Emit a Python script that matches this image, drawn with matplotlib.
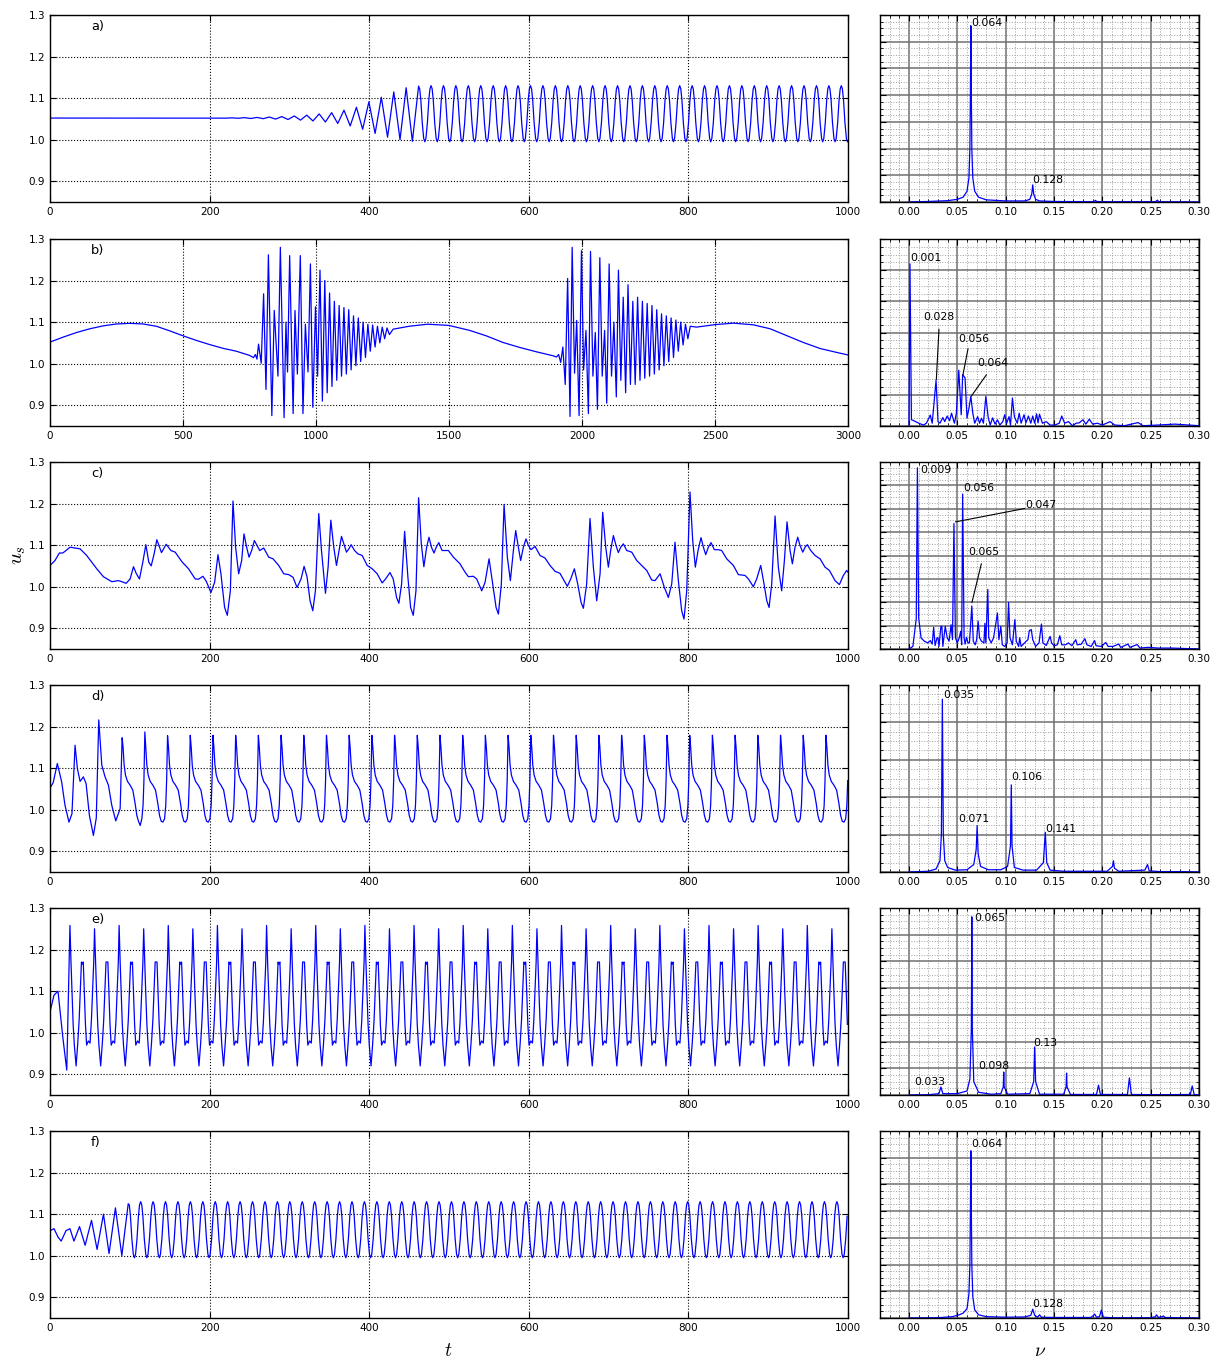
import numpy as np
import matplotlib
matplotlib.use("Agg")
import matplotlib.pyplot as plt
from matplotlib.ticker import MultipleLocator, NullFormatter, FormatStrFormatter

plt.rcParams.update({
    "font.family": ["DejaVu Sans"],
    "font.size": 7.5,
    "mathtext.fontset": "cm",
    "xtick.direction": "in", "ytick.direction": "in",
    "xtick.top": True, "ytick.right": True,
    "xtick.major.size": 4, "ytick.major.size": 4,
    "xtick.minor.size": 2, "ytick.minor.size": 2,
    "axes.linewidth": 1.0,
})

# ---------------- time series data ----------------
# a) explicit transient extrema
a_t = [0, 200, 212.6, 220.4, 228.2, 236.0, 243.8, 251.6, 259.4, 267.2, 274.9, 282.7, 290.5, 298.3,
       306.1, 313.9, 321.7, 329.5, 337.3, 345.1, 352.9, 360.6, 368.4, 376.2, 384.0, 391.8, 399.6,
       407.4, 415.2, 423.0, 430.8, 438.6, 446.3, 454.1]
a_u = [1.052, 1.052, 1.0522, 1.0518, 1.0525, 1.0515, 1.053, 1.051, 1.0535, 1.0505, 1.0545, 1.0495,
       1.0555, 1.0485, 1.057, 1.047, 1.059, 1.045, 1.062, 1.0425, 1.065, 1.039, 1.071, 1.033, 1.078,
       1.025, 1.091, 1.015, 1.102, 1.006, 1.115, 1.0, 1.125, 0.996]
# a) steady oscillation: peak times, peak / trough values, one cycle shape
a_peak_t = [461.9, 477.5, 493.1, 508.6, 524.2, 539.8, 555.4, 571.0, 586.5, 602.1, 617.7, 633.3,
            648.9, 664.4, 680.0, 695.6, 711.2, 726.8, 742.3, 757.9, 773.5, 789.1, 804.7, 820.2,
            835.8, 851.4, 867.0, 882.6, 898.1, 913.7, 929.3, 944.9, 960.5, 976.0, 991.6]
a_peak_u = [1.129] + [1.13] * 34
a_trough_u = [0.995] * 35
a_cyc_dt = [0, 1.4, 2.8, 4.6, 6.4, 7.8, 9.2, 11.0, 12.8, 14.2]
a_cyc_u = ["P", 1.122, 1.095, 1.04, 1.003, "T", 1.003, 1.04, 1.095, 1.122]

# b) slow wave + two bursts (t, u)
b_t = [0, 50, 100, 150, 200, 250, 300, 350, 400, 450, 500, 550, 600, 650, 700, 750, 765,
       772, 778, 784, 794, 803, 812, 821, 834, 843, 857, 866, 880, 887, 893, 901, 914, 921, 930,
       941, 951, 960, 970, 979, 988, 998, 1006, 1015, 1024, 1033, 1042, 1051, 1060, 1069, 1078,
       1087, 1096, 1105, 1114, 1123, 1132, 1141, 1150, 1159, 1168, 1177, 1186, 1195, 1204, 1213,
       1222, 1231, 1240, 1249, 1258, 1267, 1276, 1290, 1350, 1420, 1500, 1578, 1640, 1703, 1766,
       1829, 1891, 1904]
b_u = [1.052, 1.064, 1.075, 1.084, 1.091, 1.0955, 1.097, 1.0955, 1.09, 1.079, 1.067, 1.056,
       1.046, 1.037, 1.03, 1.02, 1.0145,
       1.022, 1.011, 1.047, 1.001, 1.168, 0.938, 1.262, 0.875, 1.128, 0.97, 1.28, 0.87, 1.10,
       0.98, 1.26, 0.88, 1.128, 0.975, 1.26, 0.88, 1.095, 0.98, 1.24, 0.895, 1.137, 0.97, 1.225,
       0.91, 1.2, 0.93, 1.17, 0.945, 1.15, 0.96, 1.14, 0.97, 1.135, 0.975, 1.13, 0.985, 1.115,
       0.995, 1.11, 1.005, 1.1, 1.015, 1.095, 1.03, 1.093, 1.04, 1.09, 1.05, 1.088, 1.06, 1.086,
       1.07, 1.083, 1.09, 1.095, 1.092, 1.08, 1.067, 1.051, 1.039, 1.0285, 1.019, 1.016]
b2_t = [1904, 1912, 1920, 1928, 1937, 1946, 1955, 1963, 1972, 1980, 1989, 1998, 2006, 2015,
        2024, 2032, 2041, 2050, 2058, 2067, 2076, 2085, 2093, 2102, 2111, 2120, 2129, 2137, 2146,
        2155, 2164, 2173, 2182, 2191, 2200, 2209, 2218, 2227, 2236, 2245, 2254, 2263, 2272, 2281,
        2290, 2299, 2308, 2317, 2326, 2335, 2344, 2353, 2362, 2371, 2380, 2389, 2398, 2407, 2431,
        2501, 2569, 2644, 2707, 2770, 2832, 2895, 2958, 3000]
b2_u = [1.016, 1.022, 1.003, 1.04, 0.95, 1.205, 0.873, 1.28, 0.977, 1.104, 0.875, 1.272, 0.985,
        1.08, 0.88, 1.27, 0.97, 1.075, 0.89, 1.255, 0.97, 1.08, 0.905, 1.24, 0.97, 1.1, 0.92,
        1.225, 0.96, 1.16, 0.93, 1.19, 0.95, 1.15, 0.95, 1.16, 0.96, 1.15, 0.965, 1.145, 0.97,
        1.14, 0.975, 1.13, 0.985, 1.12, 0.995, 1.115, 1.005, 1.11, 1.015, 1.105, 1.03, 1.1, 1.045,
        1.095, 1.06, 1.09, 1.088, 1.094, 1.0975, 1.0935, 1.084, 1.0675, 1.051, 1.0365, 1.027, 1.021]

# c) irregular signal (t, u)
c_t = [0, 6.3, 11.7, 15.9, 18.8, 25.1, 34.3, 37.7, 46, 58.6, 66.9, 77.4, 85.8, 90, 95.4, 100.4,
       104.6, 108, 112.1, 116.3, 120.1, 123.8, 126.8, 130.5, 133.9, 137.2, 139.7, 145.6, 151.5,
       156.9, 165.3, 173.6, 182, 186.2, 191.6, 195.8, 201.7, 206.3, 210.5, 214.2, 218.8, 222.2,
       226, 229.3, 232.6, 236.4, 240.2, 243.1, 246.4, 249.4, 252.7, 256.1, 259.4, 262.8, 267.8,
       274.1, 279.5, 286.6, 292.9, 299.2, 304.6, 309.6, 314.6, 318.4, 322.2, 325.9, 329.3, 332.6,
       336.8, 340.2, 345.2, 348.5, 351.9, 355.6, 359, 362.3, 365.3, 368.2, 371.5, 374.5, 377.4,
       381.6, 385.8, 391.2, 397.5, 403.8, 410, 416.3, 420.5, 426, 430.1, 434.3, 437.2, 440.6,
       444.4, 448.5, 451.9, 455.2, 458.6, 461.9, 465.3, 468.5, 472, 474.9, 478, 481.2, 484,
       487.2, 491.3, 499.2, 505.5, 513.8, 520.1, 524.3, 530.5, 534.7, 541, 545.2, 550.2, 554.8,
       559, 561.9, 565.6, 569, 573.1, 576.9, 580.7, 583.6, 586.9, 589.8, 593.2, 596.5, 599.5,
       602.8, 607.8, 614.1, 620.3, 626.6, 632.9, 639.1, 644.2, 648.3, 652.5, 657.1, 661.3, 665.5,
       668.4, 672.5, 676.7, 680.9, 685.1, 689.3, 692.6, 696.4, 699.7, 702.6, 706, 709.3, 712.2,
       715.2, 718.5, 722.7, 729, 735.2, 741.5, 747.8, 754, 758.2, 764.5, 769.9, 774.9, 779.1,
       783.2, 787.4, 791.6, 794.5, 797.9, 802, 805.4, 808.7, 812.1, 815.8, 818.8, 821.7, 825,
       828.4, 832.5, 837.5, 841.7, 848, 856.4, 862.6, 871, 875.2, 881.4, 885.6, 890.6, 894.8,
       898.2, 901.1, 904.4, 908.6, 912.7, 916.9, 920.3, 923.6, 927.4, 930.3, 933.6, 937, 939.9,
       943.3, 946.2, 949.1, 953.3, 958.7, 965, 971.2, 976.7, 983.8, 989.2, 994.2, 998.4, 1000]
c_u = [1.051, 1.063, 1.081, 1.081, 1.085, 1.095, 1.092, 1.091, 1.075, 1.043, 1.024, 1.012,
       1.0145, 1.012, 1.008, 1.0185, 1.048, 1.032, 1.0185, 1.059, 1.101, 1.059, 1.05, 1.079,
       1.113, 1.095, 1.082, 1.102, 1.087, 1.083, 1.06, 1.043, 1.0185, 1.018, 1.025, 1.013,
       0.986, 1.0105, 1.077, 1.031, 0.95, 0.931, 0.99, 1.206, 1.095, 1.031, 1.063, 1.127, 1.095,
       1.071, 1.087, 1.111, 1.099, 1.087, 1.093, 1.071, 1.067, 1.051, 1.031, 1.029, 1.0225,
       0.998, 1.0185, 1.049, 1.0225, 0.966, 0.942, 0.99, 1.176, 1.087, 0.984, 1.047, 1.16, 1.095,
       1.051, 1.087, 1.121, 1.103, 1.083, 1.091, 1.101, 1.087, 1.079, 1.075, 1.051, 1.043, 1.031,
       1.009, 1.0185, 1.034, 1.0185, 0.974, 0.96, 1.0065, 1.133, 1.0225, 0.95, 0.931, 0.99,
       1.214, 1.103, 1.048, 1.095, 1.119, 1.095, 1.081, 1.095, 1.106, 1.087, 1.087, 1.071, 1.055,
       1.035, 1.024, 1.025, 1.0185, 0.99, 1.0105, 1.067, 1.0065, 0.95, 0.934, 1.0065, 1.198,
       1.071, 1.0145, 1.087, 1.135, 1.095, 1.063, 1.095, 1.115, 1.099, 1.089, 1.097, 1.075,
       1.069, 1.051, 1.037, 1.032, 1.0145, 1.001, 1.0185, 1.043, 1.0065, 0.962, 0.948, 1.0065,
       1.164, 1.047, 0.966, 1.031, 1.179, 1.095, 1.047, 1.087, 1.123, 1.099, 1.082, 1.095,
       1.103, 1.087, 1.083, 1.063, 1.051, 1.039, 1.016, 1.0145, 1.031, 0.998, 0.974, 1.0065,
       1.107, 1.0145, 0.942, 0.922, 0.99, 1.228, 1.111, 1.047, 1.087, 1.118, 1.095, 1.077,
       1.095, 1.106, 1.089, 1.089, 1.087, 1.067, 1.051, 1.029, 1.027, 1.0185, 1.0, 1.0185,
       1.051, 1.0065, 0.966, 0.95, 1.0065, 1.17, 1.047, 0.99, 1.063, 1.156, 1.087, 1.055, 1.095,
       1.119, 1.099, 1.083, 1.095, 1.101, 1.087, 1.075, 1.067, 1.047, 1.039, 1.0145, 1.005,
       1.027, 1.039, 1.035]

# d) transient + steady cycles
d_t = [0, 4, 9.2, 14.6, 18.8, 23.8, 27.5, 31.4, 34.3, 37.7, 41.8, 45.2, 49.4, 54.4, 58, 61.1,
       64.9, 69, 73.2, 77.4, 82.4, 87.9]
d_u = [1.052, 1.065, 1.111, 1.067, 1.0105, 0.97, 0.99, 1.155, 1.099, 1.068, 1.079, 1.063,
       0.986, 0.938, 0.98, 1.216, 1.107, 1.079, 1.059, 1.0105, 0.973, 1.0025]
d_peak_t = [90.4, 118.85, 147.3, 175.75, 204.2, 232.65, 261.1, 289.55, 318.0, 346.45, 374.9,
            403.35, 431.8, 460.25, 488.7, 517.15, 545.6, 574.05, 602.5, 630.95, 659.4, 687.85,
            716.3, 744.75, 773.2, 801.65, 830.1, 858.55, 887.0, 915.45, 943.9, 972.35]
d_peak_u = [1.173, 1.187, 1.178] + [1.179] * 29
d_trough_u = [0.962] + [0.970] * 31
d_cyc_dt = [0, 1.2, 2.5, 4.2, 6.7, 10.0, 13.4, 16.3, 18.4, 20.5, 22.6, 24.7, 26.2, 27.3, 28.0]
d_cyc_u = ["P", 1.15, 1.107, 1.083, 1.068, 1.059, 1.047, 1.0145, 0.986, 0.972, "T", 0.978,
           1.01, 1.07, 1.14]

# e) transient + steady cycles (pairs of peaks)
e_t = [0, 5, 10, 16, 21]
e_u = [1.05, 1.09, 1.10, 0.99, 0.91]
e_peak_t = [25.0, 40.4, 55.8, 71.2, 86.6, 102.0, 117.4, 132.8, 148.2, 163.6, 179.0, 194.4,
            209.8, 225.2, 240.6, 256.0, 271.4, 286.8, 302.2, 317.6, 333.0, 348.4, 363.8, 379.2,
            394.6, 410.0, 425.4, 440.8, 456.2, 471.6, 487.0, 502.4, 517.8, 533.2, 548.6, 564.0,
            579.4, 594.8, 610.2, 625.6, 641.0, 656.4, 671.8, 687.2, 702.6, 718.0, 733.4, 748.8,
            764.2, 779.6, 795.0, 810.4, 825.8, 841.2, 856.6, 872.0, 887.4, 902.8, 918.2, 933.6,
            949.0, 964.4, 979.8, 995.2]
e_peak_u = [1.258, 1.165, 1.25, 1.17] * 16
e_trough_u = [0.92, 0.98, 0.92, 0.98] * 16
e_cyc_dt = [0, 1.3, 2.5, 4.0, 5.5, 7.7, 9.8, 11.5, 13.0, 14.4]
e_cyc_u = ["P", 1.17, 1.10, 1.02, 0.97, "T", 0.975, 1.03, 1.10, 1.17]

# f) transient + steady cycles
f_t = [0, 5, 10, 14, 20, 25, 30, 37, 44, 52, 59, 67, 74, 82, 90]
f_u = [1.06, 1.065, 1.045, 1.035, 1.06, 1.065, 1.035, 1.07, 1.025, 1.085, 1.015, 1.1, 1.005,
       1.115, 1.0]
f_peak_t = [98.0, 113.6, 129.2, 144.7, 160.3, 175.9, 191.5, 207.1, 222.6, 238.2, 253.8, 269.4,
            285.0, 300.5, 316.1, 331.7, 347.3, 362.9, 378.4, 394.0, 409.6, 425.2, 440.8, 456.3,
            471.9, 487.5, 503.1, 518.7, 534.2, 549.8, 565.4, 581.0, 596.6, 612.1, 627.7, 643.3,
            658.9, 674.5, 690.0, 705.6, 721.2, 736.8, 752.4, 767.9, 783.5, 799.1, 814.7, 830.3,
            845.8, 861.4, 877.0, 892.6, 908.2, 923.7, 939.3, 954.9, 970.5, 986.1]
f_peak_u = [1.125] + [1.13] * 57
f_trough_u = [0.995] * 58
f_cyc_dt = [0, 1.4, 2.8, 4.6, 6.4, 7.8, 9.2, 11.0, 12.8, 14.2]
f_cyc_u = ["P", 1.122, 1.095, 1.04, 1.003, "T", 1.003, 1.04, 1.095, 1.122]

# ---------------- spectra data ----------------
sa_f = [0.0, 0.02, 0.04, 0.05, 0.056, 0.060, 0.062, 0.063, 0.0635, 0.064, 0.0645, 0.065, 0.066,
        0.068, 0.072, 0.08, 0.10, 0.12, 0.125, 0.127, 0.128, 0.129, 0.131, 0.135, 0.15, 0.19,
        0.192, 0.193, 0.194, 0.20, 0.255, 0.256, 0.257, 0.258, 0.26, 0.30]
sa_a = [0, 0.02, 0.05, 0.1, 0.18, 0.4, 0.9, 2.0, 4.0, 6.6, 4.0, 2.0, 0.9, 0.4, 0.18, 0.08, 0.04,
        0.04, 0.1, 0.3, 0.64, 0.3, 0.1, 0.04, 0.02, 0.01, 0.03, 0.06, 0.02, 0.01, 0.01, 0.04,
        0.07, 0.02, 0.01, 0.0]

sb_f = [0.0, 0.001, 0.0025, 0.005, 0.01, 0.015, 0.018, 0.022, 0.024, 0.028, 0.030, 0.032,
        0.035, 0.037, 0.0395, 0.042, 0.044, 0.047, 0.049, 0.0515, 0.054, 0.0555, 0.058, 0.060,
        0.062, 0.064, 0.066, 0.068, 0.071, 0.073, 0.075, 0.077, 0.0795, 0.082, 0.084, 0.0865,
        0.089, 0.0915, 0.094, 0.097, 0.099, 0.101, 0.1035, 0.105, 0.107, 0.109, 0.112, 0.114,
        0.116, 0.119, 0.121, 0.1235, 0.126, 0.128, 0.130, 0.132, 0.1335, 0.135, 0.138, 0.142,
        0.146, 0.151, 0.1555, 0.158, 0.161, 0.165, 0.169, 0.173, 0.176, 0.18, 0.183, 0.1865,
        0.19, 0.195, 0.20, 0.208, 0.213, 0.223, 0.237, 0.242, 0.257, 0.275, 0.30]
sb_a = [0, 5.2, 0.2, 0.17, 0.09, 0.03, 0.09, 0.35, 0.09, 1.47, 0.14, 0.09, 0.27, 0.14, 0.32,
        0.17, 0.41, 0.09, 0.41, 1.79, 0.36, 1.65, 1.54, 0.25, 0.57, 0.95, 0.41, 0.09, 0.3, 0.09,
        0.25, 0.09, 0.95, 0.26, 0.03, 0.26, 0.06, 0.2, 0.03, 0.14, 0.36, 0.09, 0.3, 0.03, 0.9,
        0.3, 0.09, 0.41, 0.09, 0.36, 0.1, 0.32, 0.09, 0.32, 0.09, 0.39, 0.1, 0.38, 0.09, 0.14,
        0.03, 0.03, 0.09, 0.32, 0.09, 0.14, 0.01, 0.09, 0.1, 0.2, 0.06, 0.22, 0.06, 0.09, 0.03,
        0.14, 0.03, 0.01, 0.11, 0.01, 0.03, 0.06, 0.01]

sc_f = [0.0, 0.004, 0.0075, 0.0087, 0.010, 0.0125, 0.016, 0.0195, 0.022, 0.024, 0.0255, 0.027,
        0.029, 0.030, 0.031, 0.033, 0.034, 0.035, 0.0375, 0.0395, 0.0415, 0.0435, 0.045, 0.0465,
        0.048, 0.050, 0.052, 0.0535, 0.0545, 0.0555, 0.057, 0.058, 0.0595, 0.061, 0.0625,
        0.065, 0.0665, 0.0685, 0.070, 0.0715, 0.073, 0.075, 0.0775, 0.0785, 0.0795, 0.0815,
        0.0825, 0.085, 0.0875, 0.0915, 0.093, 0.095, 0.0965, 0.099, 0.1015, 0.103, 0.1045,
        0.107, 0.1095, 0.111, 0.1135, 0.1145, 0.116, 0.1195, 0.123, 0.1245, 0.1265, 0.128,
        0.131, 0.1345, 0.137, 0.1385, 0.142, 0.146, 0.1475, 0.150, 0.1535, 0.156, 0.158, 0.162,
        0.165, 0.1685, 0.1725, 0.174, 0.178, 0.182, 0.184, 0.1885, 0.192, 0.1935, 0.199, 0.2035,
        0.206, 0.211, 0.217, 0.219, 0.2265, 0.2285, 0.236, 0.239, 0.247, 0.258, 0.272, 0.30]
sc_a = [0, 0.11, 1.3, 7.75, 1.33, 0.47, 0.33, 0.26, 0.36, 0.21, 0.93, 0.15, 0.48, 0.48, 0.11,
        0.97, 0.97, 0.11, 0.97, 0.48, 0.34, 1.04, 0.4, 5.37, 0.48, 0.26, 0.48, 0.76, 0.18, 6.63,
        0.48, 0.21, 0.5, 0.26, 0.26, 1.84, 0.33, 0.18, 0.4, 1.19, 0.48, 0.33, 0.26, 1.1, 0.26,
        2.55, 0.48, 0.26, 0.48, 1.54, 0.4, 0.97, 0.18, 0.11, 0.26, 1.99, 0.48, 0.18, 1.26, 0.33,
        0.11, 0.48, 0.11, 0.26, 0.4, 0.79, 0.83, 0.4, 0.11, 0.26, 1.07, 0.26, 0.15, 0.54, 0.26,
        0.14, 0.18, 0.57, 0.18, 0.18, 0.26, 0.14, 0.4, 0.18, 0.2, 0.44, 0.18, 0.11, 0.36, 0.14,
        0.11, 0.28, 0.11, 0.11, 0.21, 0.07, 0.21, 0.07, 0.19, 0.04, 0.07, 0.04, 0.04, 0.0]

sd_f = [0.0, 0.02, 0.028, 0.032, 0.0335, 0.0345, 0.0355, 0.037, 0.040, 0.048, 0.060, 0.067,
        0.0695, 0.0705, 0.0715, 0.074, 0.082, 0.095, 0.102, 0.105, 0.1058, 0.1066, 0.109, 0.118,
        0.132, 0.139, 0.141, 0.1425, 0.146, 0.16, 0.205, 0.2105, 0.2115, 0.2125, 0.217, 0.244,
        0.2467, 0.2485, 0.26, 0.28, 0.30]
sd_a = [0, 0.02, 0.08, 0.3, 1.0, 4.62, 1.0, 0.3, 0.12, 0.05, 0.06, 0.2, 0.6, 1.24, 0.5, 0.15,
        0.06, 0.06, 0.15, 0.7, 2.33, 0.7, 0.12, 0.05, 0.05, 0.25, 1.06, 0.25, 0.05, 0.02, 0.02,
        0.15, 0.3, 0.1, 0.02, 0.05, 0.2, 0.03, 0.01, 0.01, 0.0]

se_f = [0.0, 0.02, 0.031, 0.033, 0.035, 0.05, 0.06, 0.063, 0.0645, 0.065, 0.0655, 0.067,
        0.072, 0.085, 0.095, 0.0975, 0.098, 0.0985, 0.102, 0.125, 0.129, 0.130, 0.131, 0.135,
        0.16, 0.1625, 0.163, 0.1635, 0.167, 0.194, 0.196, 0.198, 0.226, 0.228, 0.230, 0.26,
        0.291, 0.293, 0.295, 0.30]
se_a = [0, 0.01, 0.05, 0.3, 0.05, 0.05, 0.15, 0.6, 2.5, 6.67, 2.5, 0.5, 0.1, 0.03, 0.05, 0.3,
        0.86, 0.3, 0.03, 0.05, 0.5, 1.8, 0.5, 0.03, 0.03, 0.3, 0.82, 0.3, 0.02, 0.02, 0.37, 0.02,
        0.02, 0.64, 0.02, 0.01, 0.02, 0.34, 0.02, 0.0]

sf_f = [0.0, 0.03, 0.045, 0.052, 0.056, 0.060, 0.062, 0.063, 0.0635, 0.064, 0.0645, 0.065,
        0.066, 0.068, 0.072, 0.08, 0.10, 0.12, 0.126, 0.128, 0.130, 0.133, 0.135, 0.137, 0.15,
        0.188, 0.191, 0.192, 0.194, 0.197, 0.199, 0.201, 0.21, 0.25, 0.255, 0.256, 0.258, 0.262,
        0.263, 0.265, 0.30]
sf_a = [0, 0.01, 0.05, 0.12, 0.18, 0.35, 0.9, 2.0, 4.0, 6.26, 4.0, 2.0, 0.8, 0.3, 0.12, 0.05,
        0.03, 0.04, 0.1, 0.33, 0.1, 0.03, 0.12, 0.03, 0.02, 0.02, 0.1, 0.15, 0.03, 0.05, 0.3, 0.03,
        0.01, 0.01, 0.05, 0.12, 0.02, 0.05, 0.08, 0.02, 0.0]

# annotations per spectrum: (text, text_xy, line_end_or_None)
ann_a = [("0.064", (0.0645, 6.6), None), ("0.128", (0.128, 0.71), None)]
ann_b = [("0.001", (0.0014, 5.3), None),
         ("0.028", (0.0152, 3.4), ((0.031, 3.1), (0.0283, 1.5))),
         ("0.056", (0.0506, 2.7), ((0.061, 2.47), (0.0558, 1.64))),
         ("0.064", (0.0703, 1.91), ((0.080, 1.64), (0.0645, 0.96)))]
ann_c = [("0.009", (0.0121, 7.51), None), ("0.056", (0.0565, 6.77), None),
         ("0.047", (0.1203, 6.05), ((0.1196, 6.01), (0.0483, 5.44))),
         ("0.065", (0.0617, 4.04), ((0.0748, 3.64), (0.0651, 1.99)))]
ann_d = [("0.035", (0.0351, 4.64), None), ("0.071", (0.0514, 1.34), None),
         ("0.106", (0.1058, 2.45), None), ("0.141", (0.141, 1.08), None)]
ann_e = [("0.065", (0.068, 6.5), None), ("0.098", (0.072, 0.98), None),
         ("0.13", (0.129, 1.84), None), ("0.033", (0.005, 0.38), None)]
ann_f = [("0.064", (0.0645, 6.39), None), ("0.128", (0.128, 0.4), None)]


def build(t0, u0, peak_t, peak_u, trough_u, cyc_dt, cyc_u, tmax=1000.0):
    t, u = list(t0), list(u0)
    for pt, pu, tu in zip(peak_t, peak_u, trough_u):
        for dt, v in zip(cyc_dt, cyc_u):
            tt = pt + dt
            if tt > tmax:
                break
            t.append(tt)
            u.append(pu if v == "P" else (tu if v == "T" else v))
    return t, u


series = [
    build(a_t, a_u, a_peak_t, a_peak_u, a_trough_u, a_cyc_dt, a_cyc_u),
    (b_t + b2_t[1:], b_u + b2_u[1:]),
    (c_t, c_u),
    build(d_t, d_u, d_peak_t, d_peak_u, d_trough_u, d_cyc_dt, d_cyc_u),
    build(e_t, e_u, e_peak_t, e_peak_u, e_trough_u, e_cyc_dt, e_cyc_u),
    build(f_t, f_u, f_peak_t, f_peak_u, f_trough_u, f_cyc_dt, f_cyc_u),
]
spectra = [(sa_f, sa_a, 7, ann_a), (sb_f, sb_a, 6, ann_b), (sc_f, sc_a, 8, ann_c),
           (sd_f, sd_a, 5, ann_d), (se_f, se_a, 7, ann_e), (sf_f, sf_a, 7, ann_f)]
labels = ["a)", "b)", "c)", "d)", "e)", "f)"]
tmax_list = [1000, 3000, 1000, 1000, 1000, 1000]
tstep_list = [200, 500, 200, 200, 200, 200]

W, H = 1222, 1362
fig = plt.figure(figsize=(W / 100, H / 100), dpi=100)
tops = [15, 239, 462, 685, 908, 1131]
hgt = 187
for i in range(6):
    bot = 1 - (tops[i] + hgt) / H
    axL = fig.add_axes([50 / W, bot, 798 / W, hgt / H])
    axR = fig.add_axes([880 / W, bot, 319 / W, hgt / H])

    t, u = series[i]
    axL.plot(t, u, color="#0000ff", lw=0.9)
    axL.set_xlim(0, tmax_list[i])
    axL.set_ylim(0.85, 1.3)
    axL.xaxis.set_major_locator(MultipleLocator(tstep_list[i]))
    axL.yaxis.set_major_locator(MultipleLocator(0.1))
    axL.yaxis.set_major_formatter(FormatStrFormatter("%.1f"))
    axL.grid(True, which="major", ls=":", color="k", lw=0.8)
    axL.text((91 - 50) / 798, 0.936, labels[i], transform=axL.transAxes,
             ha="left", va="center", fontsize=9.4)

    sf, sa, ymax, ann = spectra[i]
    axR.plot(sf, sa, color="#0000ff", lw=0.9)
    axR.set_xlim(-0.03, 0.30)
    axR.set_ylim(0, ymax)
    axR.xaxis.set_major_locator(MultipleLocator(0.05))
    axR.xaxis.set_minor_locator(MultipleLocator(0.01))
    axR.xaxis.set_major_formatter(FormatStrFormatter("%.2f"))
    axR.yaxis.set_major_locator(MultipleLocator(1))
    axR.yaxis.set_minor_locator(MultipleLocator(0.25))
    axR.yaxis.set_major_formatter(NullFormatter())
    axR.grid(True, which="major", ls="-", color="#707070", lw=1.1)
    axR.grid(True, which="minor", ls=":", color="#a0a0a0", lw=0.7)
    axR.set_axisbelow(True)
    for txt, xy, line in ann:
        axR.text(xy[0], xy[1], txt, ha="left", va="baseline", fontsize=7.8)
        if line is not None:
            axR.plot([line[0][0], line[1][0]], [line[0][1], line[1][1]], color="k", lw=0.8)

fig.text(18 / W, 1 - 555 / H, r"$u_s$", rotation=90, ha="center", va="center", fontsize=15)
fig.text(448 / W, 1 - 1350 / H, r"$t$", ha="center", va="center", fontsize=14)
fig.text(1040 / W, 1 - 1350 / H, r"$\nu$", ha="center", va="center", fontsize=14)

fig.savefig("out.png", dpi=100)
